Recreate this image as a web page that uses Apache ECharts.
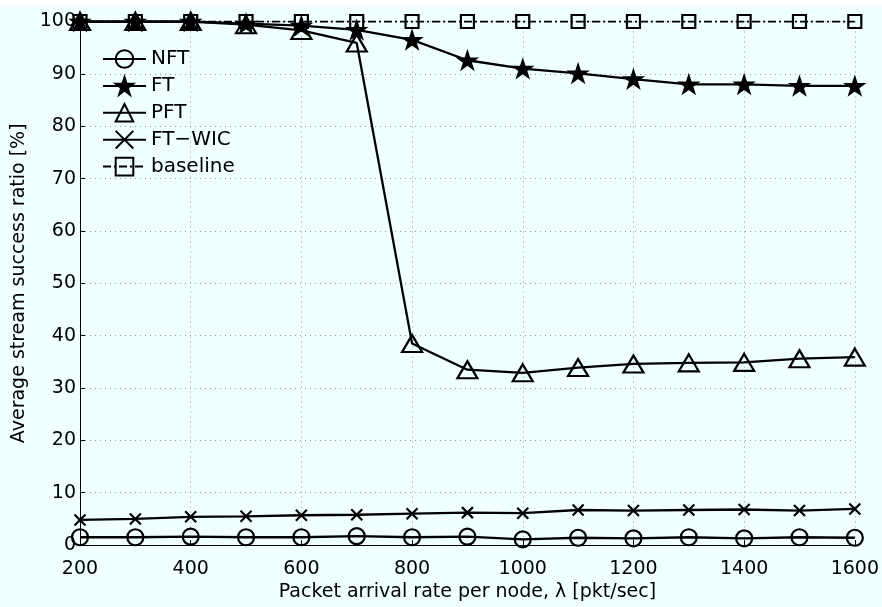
<!DOCTYPE html>
<html><head><meta charset="utf-8">
<script src="https://cdn.jsdelivr.net/npm/echarts@6/dist/echarts.min.js"></script>
<style>html,body{margin:0;padding:0;background:#fff}#c{width:882px;height:607px}</style>
</head><body><div id="c"></div>
<script>
const xValues = [200,300,400,500,600,700,800,900,1000,1100,1200,1300,1400,1500,1600];
const nft      = [1.5,1.5,1.6,1.5,1.5,1.7,1.5,1.6,1.1,1.4,1.3,1.5,1.3,1.5,1.4];
const ft       = [100,100,100,99.6,99.2,98.4,96.5,92.6,91.0,90.1,89.0,88.0,88.0,87.7,87.7];
const pft      = [100,100,100,99.4,98.3,95.9,38.5,33.5,32.9,33.9,34.6,34.8,34.9,35.6,35.9];
const ftwic    = [4.8,5.0,5.4,5.5,5.7,5.8,6.0,6.2,6.1,6.7,6.6,6.7,6.8,6.6,6.9];
const baseline = [100,100,100,100,100,100,100,100,100,100,100,100,100,100,100];
const seriesNames = ['NFT','FT','PFT','FT\u2212WIC','baseline'];
const xTitle = 'Packet arrival rate per node, \u03bb [pkt/sec]';
const yTitle = 'Average stream success ratio [%]';

const BG = '#f0ffff';
const FONT = '"DejaVu Sans", "Liberation Sans", Arial, sans-serif';
const star = 'path://M100,0 L122.45,69.1 L195.11,69.1 L136.33,111.8 L158.78,180.9 L100,138.2 L41.22,180.9 L63.67,111.8 L4.89,69.1 L77.55,69.1 Z';
const cross = 'path://M0,0 L10,10 M10,0 L0,10';

function pts(arr){ return xValues.map((x,i)=>[x,arr[i]]); }
function mk(name, data, symbol, size, opts){
  opts = opts || {};
  return {
    name, type:'line', data: pts(data), symbol, symbolSize: size,
    showSymbol:true, animation:false,
    lineStyle:{color:'#000', width: opts.lw || 2.3, type: opts.dash || 'solid'},
    itemStyle:{color: opts.fill || 'transparent', borderColor:'#000', borderWidth: opts.bw || 2.2},
    z: opts.z || 2
  };
}

const chart = echarts.init(document.getElementById('c'), null, {renderer:'canvas'});
chart.setOption({
  backgroundColor: BG,
  textStyle:{fontFamily:FONT},
  graphic:[{type:'rect', shape:{x:0,y:0,width:882,height:5}, style:{fill:'#fff'}, silent:true, z:-10}],
  grid:{left:80, right:26, top:21.5, bottom:58, containLabel:false},
  legend:{
    orient:'vertical', left:97, top:44, itemWidth:43, itemHeight:22, itemGap:6.9,
    textStyle:{fontSize:20, color:'#000', fontFamily:FONT},
    data: seriesNames, inactiveColor:'#000'
  },
  xAxis:{
    type:'value', min:200, max:1600, interval:200,
    name:xTitle, nameLocation:'middle', nameGap:29,
    nameTextStyle:{fontSize:19, color:'#000', fontFamily:FONT},
    axisLine:{lineStyle:{color:'#000', width:1}},
    axisTick:{inside:true, length:5, lineStyle:{color:'#000'}},
    axisLabel:{fontSize:19, color:'#000', margin:14, fontFamily:FONT, formatter:(v)=>String(v)},
    splitLine:{show:true, lineStyle:{color:'#999', type:[1,4], width:1}}
  },
  yAxis:{
    type:'value', min:0, max:100, interval:10,
    name:yTitle, nameLocation:'middle', nameGap:48, nameRotate:90,
    nameTextStyle:{fontSize:19, color:'#000', fontFamily:FONT},
    axisLine:{show:true, lineStyle:{color:'#000', width:1}},
    axisTick:{show:true, inside:true, length:5, lineStyle:{color:'#000'}},
    axisLabel:{fontSize:19, color:'#000', margin:4, fontFamily:FONT, formatter:(v)=>String(v)},
    splitLine:{show:true, lineStyle:{color:'#999', type:[1,4], width:1}}
  },
  series:[
    mk(seriesNames[0], nft, 'circle', 16),
    mk(seriesNames[1], ft, star, [19,18], {fill:'#000', bw:1.5}),
    mk(seriesNames[2], pft, 'triangle', [20,17]),
    mk(seriesNames[3], ftwic, cross, 11),
    mk(seriesNames[4], baseline, 'rect', 13, {dash:[8,3,2,3], z:3, lw:2})
  ]
});
</script></body></html>
